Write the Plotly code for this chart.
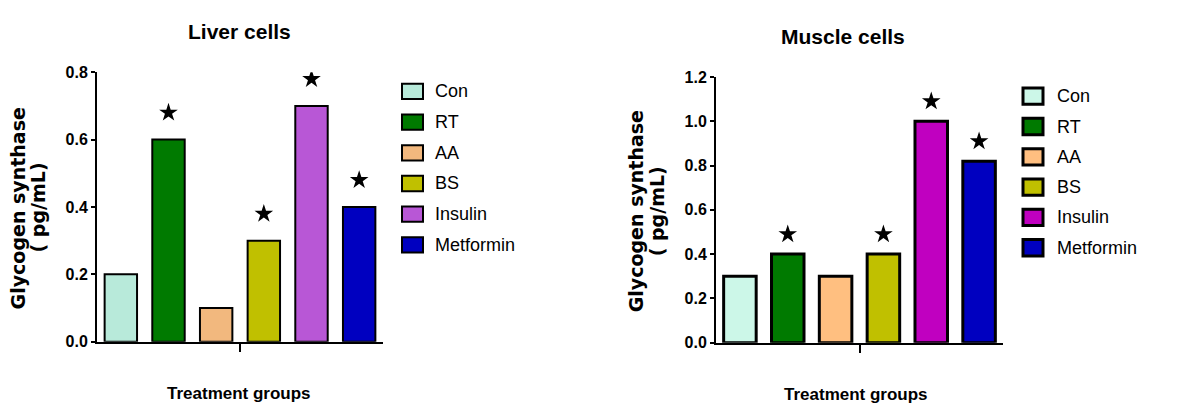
import plotly.graph_objects as go

groups = ["Con", "RT", "AA", "BS", "Insulin", "Metformin"]

liver_values = [0.2, 0.6, 0.1, 0.3, 0.7, 0.4]
liver_sig = [False, True, False, True, True, True]
liver_colors = ["#b8eada", "#007a00", "#f2b87e", "#c0c000", "#b857d6", "#0000c0"]

muscle_values = [0.3, 0.4, 0.3, 0.4, 1.0, 0.82]
muscle_sig = [False, True, False, True, True, True]
muscle_colors = ["#ccf7e8", "#007a00", "#ffbf80", "#c0c000", "#c000c0", "#0000c0"]

liver_yticks = [0.0, 0.2, 0.4, 0.6, 0.8]
muscle_yticks = [0.0, 0.2, 0.4, 0.6, 0.8, 1.0, 1.2]

W, H = 1190, 414
NARROW = "Liberation Sans, Arial, sans-serif"
WIDE = "DejaVu Sans, Liberation Sans, sans-serif"

fig = go.Figure()

panels = [
    dict(vals=liver_values, sig=liver_sig, cols=liver_colors, xa="x", ya="y",
         star_off=0.08, lw=2),
    dict(vals=muscle_values, sig=muscle_sig, cols=muscle_colors, xa="x2", ya="y2",
         star_off=0.09, lw=3),
]
xpos = list(range(len(groups)))
for p in panels:
    fig.add_trace(go.Bar(
        x=xpos, y=p["vals"], width=0.68,
        marker=dict(color=p["cols"], line=dict(color="black", width=p["lw"])),
        xaxis=p["xa"], yaxis=p["ya"], showlegend=False, hoverinfo="skip"))
    sx = [i for i, s in zip(xpos, p["sig"]) if s]
    sy = [v + p["star_off"] for v, s in zip(p["vals"], p["sig"]) if s]
    fig.add_trace(go.Scatter(
        x=sx, y=sy, mode="markers",
        marker=dict(symbol="star", size=14, color="black", line=dict(width=0)),
        xaxis=p["xa"], yaxis=p["ya"], showlegend=False, hoverinfo="skip"))

axis_common = dict(showgrid=False, zeroline=False, showline=True, linecolor="black",
                   linewidth=2, ticks="outside", tickcolor="black", tickwidth=2)
xcommon = dict(axis_common, range=[-0.5, 5.5], tickvals=[2.5], ticktext=[""], ticklen=8)
ycommon = dict(axis_common, ticklen=4,
               tickfont=dict(family=NARROW, size=16, color="black", weight="bold"))

fig.update_layout(
    width=W, height=H, margin=dict(l=0, r=0, t=0, b=0),
    paper_bgcolor="white", plot_bgcolor="white",
    xaxis=dict(xcommon, domain=[97 / W, 383 / W], anchor="y"),
    yaxis=dict(ycommon, domain=[1 - 348 / H, 1 - 67 / H], range=[0, 0.8],
               tickvals=liver_yticks, ticktext=[f"{v:.1f}" for v in liver_yticks], anchor="x"),
    xaxis2=dict(xcommon, domain=[716 / W, 1003 / W], anchor="y2"),
    yaxis2=dict(ycommon, domain=[1 - 349 / H, 1 - 72 / H], range=[0, 1.2],
                tickvals=muscle_yticks, ticktext=[f"{v:.1f}" for v in muscle_yticks], anchor="x2"),
)

ann = []
shapes = []

def add_text(x, y, text, font, angle=0, xanchor="center"):
    ann.append(dict(x=x / W, y=1 - y / H, xref="paper", yref="paper", text=text,
                    showarrow=False, textangle=angle, xanchor=xanchor, yanchor="middle",
                    font=font))

title_font = dict(family=NARROW, size=21, color="black", weight="bold")
xt_font = dict(family=NARROW, size=17, color="black", weight="bold")
yt_font = dict(family=WIDE, size=19, color="black", weight="bold")
leg_font = dict(family=NARROW, size=18, color="black")

# Titles
add_text(239, 25, "Liver cells", title_font)
add_text(843, 30, "Muscle cells", title_font)
# X titles
add_text(239, 402, "Treatment groups", xt_font)
add_text(856, 403, "Treatment groups", xt_font)
# Y titles
add_text(18, 209, "Glycogen synthase", yt_font, angle=-90)
add_text(38, 208, "( pg/mL)", yt_font, angle=-90)
add_text(636, 212, "Glycogen synthase", yt_font, angle=-90)
add_text(657, 212, "( pg/mL)", yt_font, angle=-90)

# Custom legends
legends = [
    dict(cols=liver_colors, bx0=402, bx1=423, tx=433, y0=87, dy=32, bh=16, lw=2),
    dict(cols=muscle_colors, bx0=1023, bx1=1043, tx=1055, y0=92, dy=31.6, bh=17, lw=3),
]
for L in legends:
    for i, (g, c) in enumerate(zip(groups, L["cols"])):
        yc = L["y0"] + i * L["dy"]
        shapes.append(dict(type="rect", xref="paper", yref="paper",
                           x0=L["bx0"] / W, x1=L["bx1"] / W,
                           y0=1 - (yc + L["bh"] / 2) / H, y1=1 - (yc - L["bh"] / 2) / H,
                           fillcolor=c, line=dict(color="black", width=L["lw"])))
        add_text(L["tx"], yc, g, leg_font, xanchor="left")

fig.update_layout(annotations=ann, shapes=shapes)
fig.write_html("out.html")
